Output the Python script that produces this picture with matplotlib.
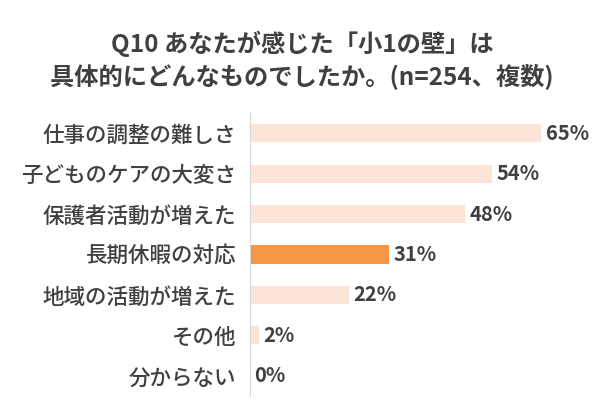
import matplotlib.pyplot as plt

plt.rcParams['font.family'] = 'Noto Sans CJK JP'

categories = ['仕事の調整の難しさ', '子どものケアの大変さ', '保護者活動が増えた',
              '長期休暇の対応', '地域の活動が増えた', 'その他', '分からない']
values = [65, 54, 48, 31, 22, 2, 0]
highlight = '長期休暇の対応'

light = '#FCE4D6'
strong = '#F79646'
text_color = '#404040'

fig = plt.figure(figsize=(6.04, 4.0), dpi=100)
ax = fig.add_axes([0.414, 0.01, 0.556, 0.7075])

ypos = list(range(len(categories)))[::-1]
colors = [strong if c == highlight else light for c in categories]
ax.barh(ypos, values, height=0.45, color=colors, zorder=2)

for y, v in zip(ypos, values):
    ax.text(v + 1.0, y, f'{v}%', va='center', ha='left', fontsize=14.5,
            fontweight='bold', color=text_color)

ax.set_xlim(0, 75)
ax.set_ylim(-0.5, 6.5)
ax.set_yticks(ypos)
ax.set_yticklabels(categories, fontsize=15.5, fontweight='medium', color=text_color)
ax.tick_params(axis='y', length=0, pad=10)
ax.set_xticks([])
for s in ['top', 'right', 'bottom']:
    ax.spines[s].set_visible(False)
ax.spines['left'].set_color('#D9D9D9')

fig.text(0.5, 0.89, 'Q10 あなたが感じた「小1の壁」は', ha='center', va='center',
         fontsize=17.5, fontweight='bold', color=text_color)
fig.text(0.5, 0.81, '具体的にどんなものでしたか。(n=254、複数)', ha='center', va='center',
         fontsize=17.5, fontweight='bold', color=text_color)

fig.savefig('out.png', dpi=100)
